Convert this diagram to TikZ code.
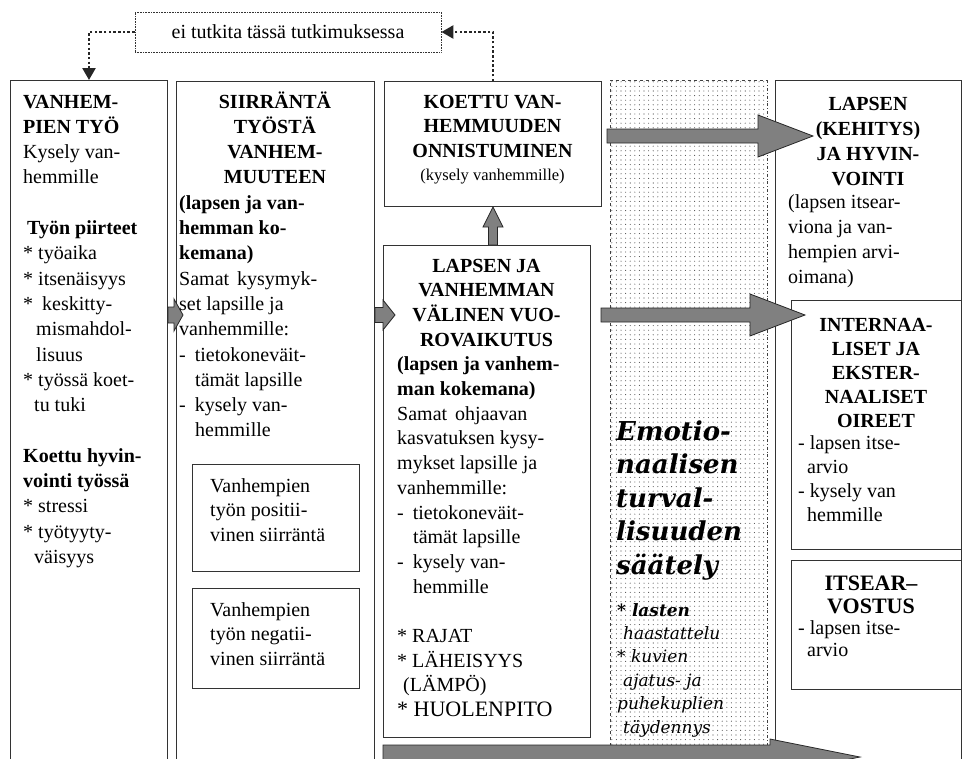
\documentclass[tikz,border=0pt]{standalone}
\usepackage{fontspec}
\setmainfont{Liberation Serif}
\newfontfamily\emofont{DejaVu Serif}
\usetikzlibrary{positioning,calc,arrows.meta,patterns.meta}

\tikzset{
  colbox/.style={draw=black!80, line width=1pt, anchor=north west, inner sep=0pt},
  bodytxt/.style={anchor=base west, inner sep=0pt, align=left, font=\fontsize{20}{24.6}\selectfont},
  headtxt/.style={anchor=base, inner sep=0pt, align=center, font=\bfseries\fontsize{20}{24.6}\selectfont},
  dotarrow/.style={black!85, line width=2.5pt, dash pattern=on 2.5pt off 2.2pt, -{Triangle[length=12pt,width=13pt]}},
  bigarrow/.style n args={3}{draw=black!85, fill=black!50, line width=0.8pt, line join=miter,
    to path={
      ($(\tikztostart)!#1!90:(\tikztotarget)$)
      -- ($($(\tikztotarget)!#3!(\tikztostart)$)!#1!90:(\tikztotarget)$)
      -- ($($(\tikztotarget)!#3!(\tikztostart)$)!#2!90:(\tikztotarget)$)
      -- (\tikztotarget)
      -- ($($(\tikztotarget)!#3!(\tikztostart)$)!#2!-90:(\tikztotarget)$)
      -- ($($(\tikztotarget)!#3!(\tikztostart)$)!#1!-90:(\tikztotarget)$)
      -- ($(\tikztostart)!#1!-90:(\tikztotarget)$)
      -- cycle}},
}

\begin{document}
\begin{tikzpicture}[x=1pt,y=-1pt]
\clip (0,0) rectangle (964,758);
%% columns and boxes
\node[colbox, minimum width=157pt, minimum height=720pt] (tyo) at (10,80) {};
\node[colbox, minimum width=198pt, minimum height=720pt] (siirto) at (176,81) {};
\node[anchor=north west, inner sep=0pt, minimum width=157pt, minimum height=720pt,
  pattern={Dots[distance=4.6pt,radius=0.55pt]}, pattern color=black!70] (emo) at (610,80) {};
\node[colbox, minimum width=186pt, minimum height=720pt] (lapsi) at (775,80) {};
\node[colbox, minimum width=167pt, minimum height=107pt] (posit) at (192,464) {};
\node[colbox, minimum width=167pt, minimum height=100pt] (negat) at (192,588) {};
\node[colbox, minimum width=217pt, minimum height=125pt] (koettu) at (384,81) {};
\node[colbox, minimum width=207pt, minimum height=492pt] (vuoro) at (383,245) {};
\node[colbox, minimum width=170pt, minimum height=249pt] (oireet) at (791,300) {};
\node[colbox, minimum width=170pt, minimum height=129pt] (itse) at (791,560) {};
\draw[black!75, line width=0.8pt, dashed] (emo.south west) -- (emo.north west) -- (emo.north east);
\draw[black!75, line width=0.8pt, dash dot] (emo.north east) -- (emo.south east);
\node[draw=black!80, line width=0.8pt, dash pattern=on 0.8pt off 0.8pt, minimum width=306pt,
  minimum height=40pt, inner sep=0pt, font=\fontsize{20}{24}\selectfont] (note) at (288,32) {ei tutkita tässä tutkimuksessa};
%% connectors
\draw[dotarrow] (note.west) -| (tyo.north);
\draw[dotarrow] (koettu.north) |- (note.east);
\coordinate (lvl) at (0,315);
\coordinate (kehitys) at (860,757);
\draw[bigarrow={8pt}{16pt}{9pt}] (tyo.east |- lvl) to ($(siirto.west |- lvl)+(7,0)$);
\draw[bigarrow={7.5pt}{15pt}{12pt}] (siirto.east |- lvl) to ($(vuoro.west |- lvl)+(12,0)$);
\draw[bigarrow={7pt}{21pt}{55pt}] ($(koettu.east |- 0,136)+(5,0)$) to ($(lapsi.west |- 0,136)+(38,0)$);
\draw[bigarrow={7pt}{21pt}{55pt}] ($(vuoro.east |- lvl)+(10,0)$) to ($(oireet.west |- lvl)+(14,0)$);
\draw[bigarrow={4.5pt}{10pt}{20pt}] (koettu.south |- vuoro.north) to (koettu.south);
\draw[bigarrow={12pt}{18pt}{90pt}] (vuoro.west |- kehitys) to (kehitys);
%% texts (placed at the baseline of their last line)
\node[bodytxt, font=\fontsize{20}{25.3}\selectfont] (tyotxt) at (23,563.4) {\textbf{VANHEM-}\\ \textbf{PIEN TYÖ}\\ Kysely van-\\ hemmille\\[25.3pt]
  \hspace*{4pt}\textbf{Työn piirteet}\\ * työaika\\ * itsenäisyys\\ *\hspace*{9pt}keskitty-\\ \hspace*{13pt}mismahdol-\\
  \hspace*{13pt}lisuus\\ * työssä koet-\\ \hspace*{11pt}tu tuki\\[25.3pt] \textbf{Koettu hyvin-}\\ \textbf{vointi työssä}\\
  * stressi\\ * työtyyty-\\ \hspace*{11pt}väisyys};
\node[headtxt, font=\bfseries\fontsize{20}{25.3}\selectfont] (siirtoh) at (275,183.9) {SIIRRÄNTÄ\\ TYÖSTÄ\\ VANHEM-\\ MUUTEEN};
\node[bodytxt, font=\fontsize{20}{25.3}\selectfont] (siirtotxt) at (179,436.9) {\textbf{(lapsen ja van-}\\ \textbf{hemman ko-}\\ \textbf{kemana)}\\
  Samat\hspace{8pt}kysymyk-\\ set lapsille ja\\ vanhemmille:\\ -\hspace{9pt}tietokoneväit-\\ \hspace*{16pt}tämät lapsille\\
  -\hspace{9pt}kysely van-\\ \hspace*{16pt}hemmille};
\node[bodytxt] (posittxt) at (210,541.2) {Vanhempien\\ työn positii-\\ vinen siirräntä};
\node[bodytxt] (negattxt) at (210,665.2) {Vanhempien\\ työn negatii-\\ vinen siirräntä};
\node[headtxt] (koettuh) at (492.5,157.2) {KOETTU VAN-\\ HEMMUUDEN\\ ONNISTUMINEN};
\node[anchor=base, inner sep=0pt, font=\fontsize{16.5}{20}\selectfont] (koettutxt) at (492.5,180) {(kysely vanhemmille)};
\node[headtxt, font=\bfseries\fontsize{20}{24.7}\selectfont] (vuoroh) at (486.5,346.1) {LAPSEN JA\\ VANHEMMAN\\ VÄLINEN VUO-\\ ROVAIKUTUS};
\node[bodytxt, font=\fontsize{20}{24.7}\selectfont] (vuorotxt) at (397,716.6) {\textbf{(lapsen ja vanhem-}\\ \textbf{man kokemana)}\\
  Samat\hspace{8pt}ohjaavan\\ kasvatuksen kysy-\\ mykset lapsille ja\\ vanhemmille:\\ -\hspace{9pt}tietokoneväit-\\
  \hspace*{16pt}tämät lapsille\\ -\hspace{9pt}kysely van-\\ \hspace*{16pt}hemmille\\[24.7pt] * RAJAT\\ * LÄHEISYYS\\
  \hspace*{6pt}(LÄMPÖ)\\ {\fontsize{22}{24.7}\selectfont * HUOLENPITO}};
\node[anchor=base west, inner sep=0pt, align=left, font=\emofont\bfseries\itshape\fontsize{26}{33.5}\selectfont] (emotxt)
  at (616,574) {Emotio-\\ naalisen\\ turval-\\ lisuuden\\ säätely};
\node[anchor=base west, inner sep=0pt, align=left, font=\emofont\itshape\fontsize{17}{23.4}\selectfont] (emosub)
  at (617,733) {\textbf{* lasten}\\ \hspace*{6pt}haastattelu\\ * kuvien\\ \hspace*{6pt}ajatus- ja\\ puhekuplien\\ \hspace*{6pt}täydennys};
\node[headtxt, font=\bfseries\fontsize{20}{25}\selectfont] (lapsih) at (868,185) {LAPSEN\\ (KEHITYS)\\ JA HYVIN-\\ VOINTI};
\node[bodytxt, font=\fontsize{20}{25}\selectfont] (lapsitxt) at (788,283) {(lapsen itsear-\\ viona ja van-\\ hempien arvi-\\ oimana)};
\node[headtxt, font=\bfseries\fontsize{20}{24}\selectfont] (oireeth) at (876,427) {INTERNAA-\\ LISET JA\\ EKSTER-\\ NAALISET\\ OIREET};
\node[bodytxt, font=\fontsize{20}{24}\selectfont] (oireettxt) at (798,521) {- lapsen itse-\\ \hspace*{9pt}arvio\\ - kysely van\\ \hspace*{9pt}hemmille};
\node[headtxt, font=\bfseries\fontsize{22}{23}\selectfont] (itseh) at (871,613) {ITSEAR–\\ VOSTUS};
\node[bodytxt, font=\fontsize{20}{22}\selectfont] (itsetxt) at (798,656) {- lapsen itse-\\ \hspace*{9pt}arvio};
\end{tikzpicture}
\end{document}
